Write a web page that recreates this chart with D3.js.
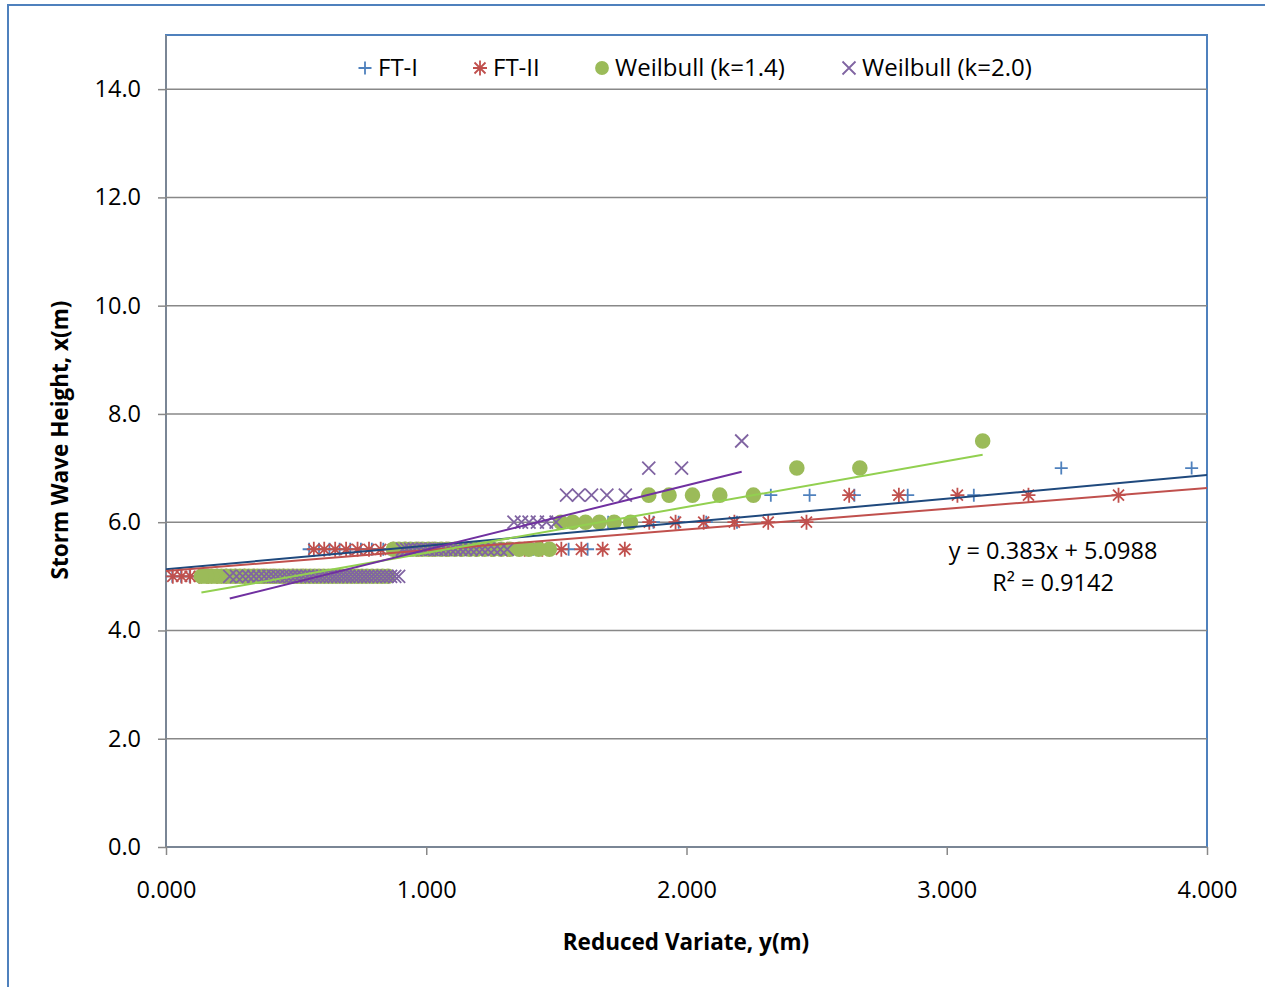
<!DOCTYPE html>
<html>
<head>
<meta charset="utf-8">
<script src="https://cdn.jsdelivr.net/npm/d3@7"></script>
<style>
  body { margin: 0; background: #fff; }
  svg text { font-family: "Open Sans", "Liberation Sans", sans-serif; fill: #000; }
</style>
</head>
<body>
<svg id="chart" width="1265" height="987"></svg>
<script>
// ============================================================
// Storm wave height vs reduced variate (Goda plotting positions)
// ============================================================

// wave heights, largest first
const heights = [
  7.5, 7.0, 7.0, 6.5, 6.5, 6.5, 6.5, 6.5, 6.0, 6.0, 6.0, 6.0, 6.0, 6.0,
  5.5, 5.5, 5.5, 5.5, 5.5, 5.5, 5.5, 5.5, 5.5, 5.5, 5.5, 5.5, 5.5, 5.5, 5.5, 5.5, 5.5, 5.5, 5.5, 5.5, 5.5, 5.5,
  5.0, 5.0, 5.0, 5.0, 5.0, 5.0, 5.0, 5.0, 5.0, 5.0, 5.0, 5.0, 5.0, 5.0, 5.0, 5.0, 5.0, 5.0, 5.0, 5.0, 5.0,
  5.0, 5.0, 5.0, 5.0, 5.0, 5.0, 5.0, 5.0, 5.0, 5.0, 5.0, 5.0, 5.0, 5.0, 5.0, 5.0, 5.0, 5.0, 5.0, 5.0
];

// reduced variates per distribution (same order as heights)
const ft1 = [
  4.972, 3.941, 3.440, 3.104, 2.850, 2.645, 2.473, 2.324, 2.194, 2.076,
  1.970, 1.873, 1.783, 1.699, 1.620, 1.547, 1.477, 1.411, 1.348, 1.288,
  1.230, 1.175, 1.121, 1.070, 1.020, 0.972, 0.925, 0.879, 0.835, 0.791,
  0.749, 0.708, 0.667, 0.628, 0.588, 0.550, 0.512, 0.475, 0.439, 0.402,
  0.367, 0.331, 0.296, 0.261, 0.227, 0.193, 0.159, 0.125, 0.091, 0.058,
  0.024, -0.009, -0.043, -0.077, -0.110, -0.144, -0.178, -0.212, -0.247, -0.281,
  -0.317, -0.352, -0.389, -0.426, -0.463, -0.502, -0.541, -0.582, -0.623, -0.667,
  -0.712, -0.760, -0.810, -0.864, -0.922, -0.986, -1.057
];
const ft2 = [
  6.590, 4.881, 4.135, 3.660, 3.314, 3.041, 2.816, 2.625, 2.461, 2.314,
  2.184, 2.066, 1.958, 1.857, 1.763, 1.678, 1.596, 1.519, 1.446, 1.378,
  1.312, 1.250, 1.190, 1.133, 1.076, 1.023, 0.971, 0.921, 0.873, 0.825,
  0.780, 0.736, 0.692, 0.650, 0.608, 0.568, 0.527, 0.489, 0.451, 0.412,
  0.376, 0.339, 0.302, 0.267, 0.232, 0.197, 0.162, 0.128, 0.093, 0.060,
  0.026, -0.008, -0.041, -0.075, -0.108, -0.141, -0.175, -0.209, -0.242, -0.276,
  -0.310, -0.345, -0.380, -0.415, -0.451, -0.488, -0.525, -0.564, -0.603, -0.644,
  -0.686, -0.731, -0.777, -0.827, -0.880, -0.937, -1.002
];
const wb14 = [
  3.138, 2.666, 2.424, 2.257, 2.128, 2.023, 1.933, 1.855, 1.785, 1.722,
  1.665, 1.612, 1.563, 1.517, 1.473, 1.432, 1.394, 1.357, 1.321, 1.288,
  1.256, 1.224, 1.194, 1.166, 1.137, 1.110, 1.084, 1.058, 1.033, 1.009,
  0.985, 0.962, 0.939, 0.917, 0.895, 0.874, 0.853, 0.832, 0.812, 0.792,
  0.772, 0.753, 0.734, 0.715, 0.696, 0.678, 0.659, 0.641, 0.624, 0.606,
  0.588, 0.571, 0.554, 0.537, 0.519, 0.503, 0.486, 0.469, 0.452, 0.435,
  0.419, 0.402, 0.385, 0.368, 0.352, 0.335, 0.318, 0.301, 0.284, 0.266,
  0.249, 0.231, 0.213, 0.195, 0.175, 0.156, 0.136
];
const wb20 = [
  2.212, 1.981, 1.855, 1.765, 1.694, 1.635, 1.585, 1.539, 1.499, 1.462,
  1.427, 1.395, 1.366, 1.337, 1.311, 1.285, 1.261, 1.237, 1.215, 1.193,
  1.172, 1.151, 1.132, 1.112, 1.094, 1.075, 1.057, 1.040, 1.022, 1.005,
  0.989, 0.972, 0.956, 0.940, 0.925, 0.909, 0.894, 0.879, 0.863, 0.849,
  0.834, 0.819, 0.804, 0.790, 0.775, 0.761, 0.746, 0.732, 0.718, 0.703,
  0.689, 0.675, 0.660, 0.646, 0.632, 0.617, 0.602, 0.588, 0.573, 0.558,
  0.543, 0.527, 0.512, 0.496, 0.480, 0.464, 0.447, 0.430, 0.413, 0.395,
  0.377, 0.357, 0.337, 0.317, 0.295, 0.271, 0.245
];

const seriesNames = ['FT-I', 'FT-II', 'Weilbull (k=1.4)', 'Weilbull (k=2.0)'];
const seriesX     = [ft1, ft2, wb14, wb20];

// linear trendlines (slope, intercept) as shown on the chart
const trendSlope     = [0.435, 0.383, 0.848, 1.19];
const trendIntercept = [5.13, 5.0988, 4.585, 4.30];
const trendLabel     = ['y = 0.383x + 5.0988', 'R² = 0.9142'];

const xTicks = [0, 1, 2, 3, 4];
const yTicks = [0, 2, 4, 6, 8, 10, 12, 14];

// ------------------------------------------------------------
const markColor  = ['#4f81bd', '#c0504d', '#9bbb59', '#8064a2'];
const trendColor = ['#1f497d', '#c0504d', '#92d050', '#7030a0'];

const svg = d3.select('#chart');
const P = { l: 166, r: 1207, t: 35, b: 847 };

const x = d3.scaleLinear().domain([0, 4]).range([P.l, P.r]);
const y = d3.scaleLinear().domain([0, 15]).range([P.b, P.t]);

// outer chart frame
svg.append('rect')
  .attr('x', 8).attr('y', 5).attr('width', 1300).attr('height', 1050)
  .attr('fill', 'none').attr('stroke', '#4f81bd').attr('stroke-width', 2);

// plot area frame
svg.append('rect')
  .attr('x', P.l).attr('y', P.t).attr('width', P.r - P.l).attr('height', P.b - P.t)
  .attr('fill', 'none').attr('stroke', '#4f81bd').attr('stroke-width', 2);

svg.append('defs').append('clipPath').attr('id', 'plot-clip')
  .append('rect')
  .attr('x', P.l).attr('y', P.t).attr('width', P.r - P.l).attr('height', P.b - P.t);

// gridlines
svg.append('g')
  .selectAll('line')
  .data(yTicks.filter(d => d > 0))
  .join('line')
  .attr('x1', P.l).attr('x2', P.r)
  .attr('y1', d => y(d)).attr('y2', d => y(d))
  .attr('stroke', '#888').attr('stroke-width', 1.5);

// axes
const yAxis = svg.append('g')
  .attr('transform', `translate(${P.l},0)`)
  .call(d3.axisLeft(y).tickValues(yTicks).tickFormat(d3.format('.1f')).tickSize(8).tickPadding(17));
const xAxis = svg.append('g')
  .attr('transform', `translate(0,${P.b})`)
  .call(d3.axisBottom(x).tickValues(xTicks).tickFormat(d3.format('.3f')).tickSize(8).tickPadding(26));

[xAxis, yAxis].forEach(a => {
  a.select('.domain').attr('stroke', '#888').attr('stroke-width', 1.5);
  a.selectAll('.tick line').attr('stroke', '#888').attr('stroke-width', 1.5);
  a.selectAll('.tick text').attr('font-size', 23.5).attr('fill', '#000')
    .style('font-family', '"Open Sans", sans-serif');
});
yAxis.select('.domain').attr('d', `M0,${P.b}V${P.t}`);
xAxis.select('.domain').attr('d', `M${P.l},0H${P.r}`);

// marker shapes
function markerPath(kind) {
  if (kind === 0) return 'M-6.5,0H6.5M0,-6.5V6.5';
  if (kind === 1) return 'M-7,0H7M0,-7.5V7.5M-5.5,-5.5L5.5,5.5M-5.5,5.5L5.5,-5.5';
  if (kind === 3) return 'M-6.5,-6.5L6.5,6.5M-6.5,6.5L6.5,-6.5';
  return d3.symbol(d3.symbolCircle, 190)();
}
function styleMarker(sel, k) {
  if (k === 2) sel.attr('fill', markColor[k]).attr('stroke', 'none');
  else sel.attr('fill', 'none').attr('stroke', markColor[k]).attr('stroke-width', 1.8);
}

// points (only those inside the x range are plotted)
seriesX.forEach((xs, k) => {
  const pts = xs.map((v, i) => ({ v, h: heights[i] })).filter(d => d.v >= 0 && d.v <= 4);
  const g = svg.append('g');
  g.selectAll('path')
    .data(pts)
    .join('path')
    .attr('transform', d => `translate(${x(d.v)},${y(d.h)})`)
    .attr('d', markerPath(k))
    .call(styleMarker, k);
});

// trendlines across each series' data range
const tg = svg.append('g').attr('clip-path', 'url(#plot-clip)');
seriesX.forEach((xs, k) => {
  const [x0, x1] = d3.extent(xs);
  const line = [x0, x1].map(v => [x(v), y(trendSlope[k] * v + trendIntercept[k])]);
  tg.append('path')
    .attr('d', d3.line()(line))
    .attr('fill', 'none').attr('stroke', trendColor[k]).attr('stroke-width', 2);
});

// trendline equation
svg.append('g').selectAll('text')
  .data(trendLabel)
  .join('text')
  .attr('x', 1053).attr('y', (d, i) => 551 + i * 32)
  .attr('dy', '0.35em').attr('text-anchor', 'middle')
  .attr('font-size', 23.5)
  .text(d => d);

// legend
const legendX = [365, 480, 602, 849];
const lg = svg.append('g');
seriesNames.forEach((name, k) => {
  lg.append('path')
    .attr('transform', `translate(${legendX[k]},68)`)
    .attr('d', k === 2 ? d3.symbol(d3.symbolCircle, 150)() : markerPath(k))
    .call(styleMarker, k);
  lg.append('text')
    .attr('x', legendX[k] + 13).attr('y', 68).attr('dy', '0.35em')
    .attr('font-size', 24)
    .text(name);
});

// axis titles
svg.append('text')
  .attr('x', 686).attr('y', 942).attr('dy', '0.35em')
  .attr('text-anchor', 'middle').attr('font-size', 22.5).attr('font-weight', 'bold')
  .text('Reduced Variate, y(m)');
svg.append('text')
  .attr('transform', 'translate(60,440) rotate(-90)')
  .attr('dy', '0.35em')
  .attr('text-anchor', 'middle').attr('font-size', 22.5).attr('font-weight', 'bold')
  .text('Storm Wave Height, x(m)');
</script>
</body>
</html>
